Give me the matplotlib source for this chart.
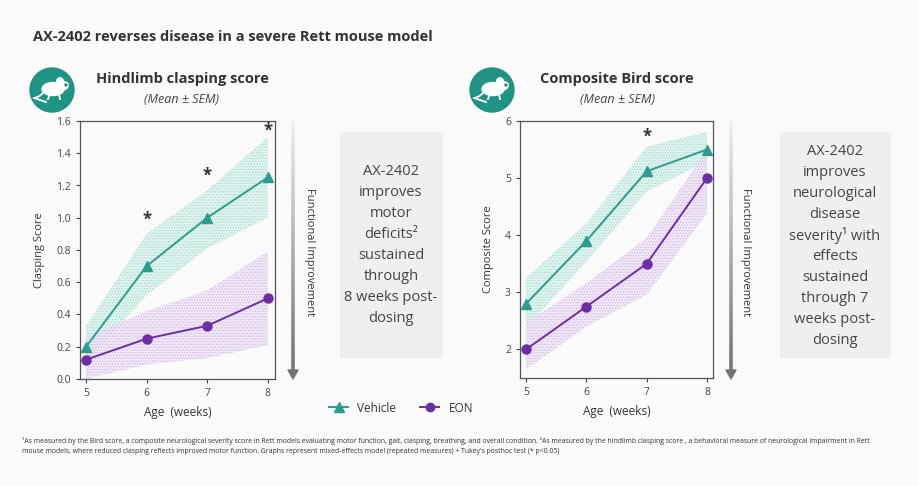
import numpy as np
import matplotlib.pyplot as plt
from matplotlib.patches import Circle, Ellipse, Rectangle, Polygon
from matplotlib.collections import LineCollection
from matplotlib.lines import Line2D

# AX-2402 Rett mouse model: clasping score and Bird score panels

plt.rcParams['font.family'] = ['Open Sans', 'DejaVu Sans']
plt.rcParams['hatch.linewidth'] = 0.6

W, H = 919, 486
teal = "#2b9d8e"
purple = "#6d2ea5"
bg = "#fafafa"
txt = "#333333"

weeks = [5, 6, 7, 8]

clasp_vehicle = [0.20, 0.70, 1.00, 1.25]
clasp_vehicle_hi = [0.33, 0.90, 1.17, 1.50]
clasp_vehicle_lo = [0.10, 0.52, 0.81, 1.00]
clasp_eon = [0.12, 0.25, 0.33, 0.50]
clasp_eon_hi = [0.26, 0.42, 0.55, 0.79]
clasp_eon_lo = [0.00, 0.09, 0.13, 0.21]
clasp_star_x = [6, 7, 8]
clasp_star_y = [0.99, 1.26, 1.54]

bird_vehicle = [2.80, 3.90, 5.12, 5.50]
bird_vehicle_hi = [3.25, 4.21, 5.55, 5.81]
bird_vehicle_lo = [2.38, 3.54, 4.76, 5.30]
bird_eon = [2.00, 2.75, 3.50, 5.00]
bird_eon_hi = [2.47, 3.16, 3.95, 5.49]
bird_eon_lo = [1.65, 2.40, 2.96, 4.38]
bird_star_x = [7]
bird_star_y = [5.72]

clasp_box = ["AX-2402", "improves", "motor", "deficits\u00b2", "sustained",
             "through", "8 weeks post-", "dosing"]
bird_box = ["AX-2402", "improves", "neurological", "disease", "severity\u00b9 with",
            "effects", "sustained", "through 7", "weeks post-", "dosing"]

footnote = [
    "\u00b9As measured by the Bird score, a composite neurological severity score in Rett models evaluating motor function, gait, clasping, breathing, and overall condition. "
    "\u00b2As measured by the hindlimb clasping score , a behavioral measure of neurological impairment in Rett",
    "mouse models, where reduced clasping reflects improved motor function. Graphs represent mixed-effects model (repeated measures) + Tukey's posthoc test (* p<0.05)",
]


def px_axes(fig, x0, y0, x1, y1):
    return fig.add_axes([x0 / W, 1 - y1 / H, (x1 - x0) / W, (y1 - y0) / H])


fig = plt.figure(figsize=(W / 100, H / 100), dpi=100, facecolor=bg)

# overlay in pixel coordinates for decorations
ov = fig.add_axes([0, 0, 1, 1], zorder=-1)
ov.set_xlim(0, W)
ov.set_ylim(H, 0)
ov.axis("off")


def draw_panel(ax, vh, vl, v, eh, el, e, sx, sy):
    ax.set_facecolor("none")
    ax.fill_between(weeks, vl, vh, facecolor="#d9f1ec", edgecolor="#8fd3c6",
                    hatch="......", linewidth=0, alpha=0.75, zorder=1)
    ax.fill_between(weeks, el, eh, facecolor="#efe4f6", edgecolor="#c7a6de",
                    hatch="......", linewidth=0, alpha=0.75, zorder=1)
    ax.plot(weeks, v, color=teal, marker="^", markersize=7, linewidth=1.4, zorder=3)
    ax.plot(weeks, e, color=purple, marker="o", markersize=6.5, linewidth=1.4, zorder=3)
    for x, y in zip(sx, sy):
        ax.text(x, y, "*", ha="center", va="center", fontsize=12, fontweight="bold",
                color=txt, zorder=4)
    ax.set_xticks(weeks)
    ax.tick_params(labelsize=7.5, length=3, colors="#444444")
    for s in ax.spines.values():
        s.set_color("#555555")
        s.set_linewidth(0.9)


ax1 = px_axes(fig, 80, 121, 275, 379)
draw_panel(ax1, clasp_vehicle_hi, clasp_vehicle_lo, clasp_vehicle,
           clasp_eon_hi, clasp_eon_lo, clasp_eon, clasp_star_x, clasp_star_y)
ax1.set_xlim(4.9, 8.12)
ax1.set_ylim(0, 1.6)
ax1.set_yticks(np.arange(0, 1.61, 0.2))
ax1.set_yticklabels(["%.1f" % t for t in np.arange(0, 1.61, 0.2)])
ax1.set_ylabel("Clasping Score", fontsize=8, color=txt, labelpad=8)
ax1.set_xlabel("Age  (weeks)", fontsize=8.5, color=txt, labelpad=5)

ax2 = px_axes(fig, 520, 121, 713, 378)
draw_panel(ax2, bird_vehicle_hi, bird_vehicle_lo, bird_vehicle,
           bird_eon_hi, bird_eon_lo, bird_eon, bird_star_x, bird_star_y)
ax2.set_xlim(4.9, 8.1)
ax2.set_ylim(1.5, 6)
ax2.set_yticks([2, 3, 4, 5, 6])
ax2.set_ylabel("Composite Score", fontsize=8, color=txt, labelpad=8)
ax2.set_xlabel("Age  (weeks)", fontsize=8.5, color=txt, labelpad=5)

# main title
ov.text(33, 37, "AX-2402 reverses disease in a severe Rett mouse model",
        fontsize=10.5, fontweight="bold", color=txt, va="center", ha="left")

# panel titles
for cx, title in [(182, "Hindlimb clasping score"), (617, "Composite Bird score")]:
    ov.text(cx, 79, title, fontsize=10.5, fontweight="bold", color=txt,
            ha="center", va="center")
    ov.text(cx, 99, "(Mean \u00b1 SEM)", fontsize=9, style="italic", color="#444444",
            ha="center", va="center")

# mouse icons
for cx, cy in [(52, 90), (492, 90)]:
    ov.add_patch(Circle((cx, cy), 22, color="#1f9484"))
    ov.add_patch(Ellipse((cx + 1, cy - 1), 22, 13, color="white"))
    ov.add_patch(Ellipse((cx + 11, cy - 4), 11, 8, angle=-20, color="white"))
    ov.add_patch(Circle((cx + 8, cy - 9), 3.2, color="white"))
    ov.add_patch(Circle((cx + 14, cy - 5), 1.0, color="#1f9484"))
    tx = np.linspace(0, 1, 30)
    ov.plot(cx - 9 - 9 * tx, cy + 3 + 9 * tx - 4 * tx ** 2, color="white", linewidth=1.3)
    ov.plot(cx - 18 + 12 * tx, cy + 8 + 4 * tx, color="white", linewidth=1.3)
    ov.plot([cx - 2, cx - 4], [cy + 4, cy + 9], color="white", linewidth=1.3)
    ov.plot([cx + 7, cx + 8], [cy + 4, cy + 9], color="white", linewidth=1.3)


# functional improvement arrows
def grad_arrow(x, y0, y1):
    ys = np.linspace(y0, y1, 80)
    segs = [[(x, ys[i]), (x, ys[i + 1])] for i in range(len(ys) - 1)]
    shades = np.linspace(0.93, 0.45, len(segs))
    cols = [(s, s, s) for s in shades]
    ov.add_collection(LineCollection(segs, colors=cols, linewidths=2.6))
    ov.add_patch(Polygon([(x - 5, y1), (x + 5, y1), (x, y1 + 9)], color=(0.45, 0.45, 0.45)))


grad_arrow(293, 121, 370)
ov.text(310, 252, "Functional Improvement", rotation=-90, fontsize=8, color=txt,
        ha="center", va="center")
grad_arrow(731, 121, 370)
ov.text(746, 252, "Functional Improvement", rotation=-90, fontsize=8, color=txt,
        ha="center", va="center")

# side text boxes
ov.add_patch(Rectangle((340, 132), 102, 225, color="#efefef"))
ov.add_patch(Rectangle((780, 132), 110, 225, color="#efefef"))
for lines, cx, cy in [(clasp_box, 391, 245), (bird_box, 835, 246)]:
    n = len(lines)
    for i, line in enumerate(lines):
        ov.text(cx, cy + (i - (n - 1) / 2) * 21, line, fontsize=10.5, color="#444444",
                ha="center", va="center")

# legend
handles = [
    Line2D([], [], color=teal, marker="^", markersize=7, linewidth=1.4, label="Vehicle"),
    Line2D([], [], color=purple, marker="o", markersize=6, linewidth=1.4, label="EON"),
]
fig.legend(handles=handles, loc="center", bbox_to_anchor=(401 / W, 1 - 408 / H),
           ncol=2, frameon=False, fontsize=8.5, handlelength=1.6, columnspacing=2.0,
           labelcolor=txt)

# footnotes
ov.text(22, 441, footnote[0], fontsize=4.95, color=txt, va="center", ha="left")
ov.text(22, 451, footnote[1], fontsize=4.95, color=txt, va="center", ha="left")

fig.savefig("out.png", dpi=100, facecolor=bg)
